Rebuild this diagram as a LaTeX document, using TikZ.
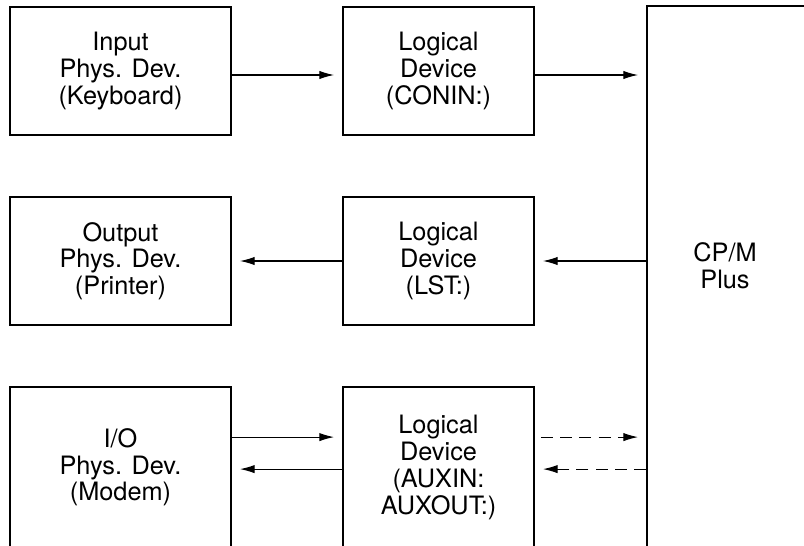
\documentclass[tikz,border=0pt]{standalone}
\usepackage{fontspec}
\setmainfont{TeX Gyre Heros}
\usetikzlibrary{arrows.meta}
\tikzset{
  dev_box/.style={draw, line width=1.3pt, inner sep=0pt, align=center,
      minimum height=3.2cm, font=\fontsize{18}{19}\selectfont},
  phys_box/.style={dev_box, minimum width=5.525cm},
  log_box/.style={dev_box, minimum width=4.775cm},
  flow/.style={line width=0.8pt, -{Latex[length=0.37cm,width=0.21cm]}, shorten >=0.2cm},
  flow_aux/.style={flow, dash pattern=on 0.3cm off 0.18cm}
}
\def\PixelUnit {0.025cm}

\begin{document}
\begin{tikzpicture}[x=\PixelUnit, y=-\PixelUnit]
        \useasboundingbox (0,0) rectangle (804,546);
        \clip (0,0) rectangle (804,546);
        \node[phys_box] (phys_in) at (120.5,71) {Input\\Phys. Dev.\\(Keyboard)};
        \node[log_box] (log_in) at (438.5,71) {Logical\\Device\\(CONIN:)};
        \node[phys_box] (phys_out) at (120.5,261) {Output\\Phys. Dev.\\(Printer)};
        \node[log_box] (log_out) at (438.5,261) {Logical\\Device\\(LST:)};
        \node[phys_box, minimum height=4.025cm] (phys_io) at (120.5,467.5) {I/O\\Phys. Dev.\\(Modem)};
        \node[log_box, minimum height=4.025cm] (log_aux) at (438.5,467.5) {Logical\\Device\\(AUXIN:\\AUXOUT:)};
        \node[draw, line width=1.3pt, minimum width=3.975cm, minimum height=13.85cm] (cpm) at (726.5,283) {};
        \node[font=\fontsize{18}{19}\selectfont, align=center] (cpm_lbl) at (725,266) {CP/M\\Plus};
        \draw[flow] ([yshift=-0.1cm]phys_in.east) -- ([yshift=-0.1cm]log_in.west);
        \draw[flow] ([yshift=-0.1cm]log_in.east) -- ([yshift=-0.1cm]log_in.east -| cpm.west);
        \draw[flow] (log_out.east -| cpm.west) -- (log_out.east);
        \draw[flow] (log_out.west) -- (phys_out.east);
        \draw[flow] ([yshift=0.76cm]phys_io.east) -- ([yshift=0.76cm]log_aux.west);
        \draw[flow] ([yshift=-0.04cm]log_aux.west) -- ([yshift=-0.04cm]phys_io.east);
        \draw[flow_aux] ([yshift=0.76cm,xshift=0.15cm]log_aux.east) -- ([yshift=0.76cm]log_aux.east -| cpm.west);
        \draw[flow_aux] ([yshift=-0.04cm]log_aux.east -| cpm.west) -- ([yshift=-0.04cm]log_aux.east);
      \end{tikzpicture}
\end{document}
